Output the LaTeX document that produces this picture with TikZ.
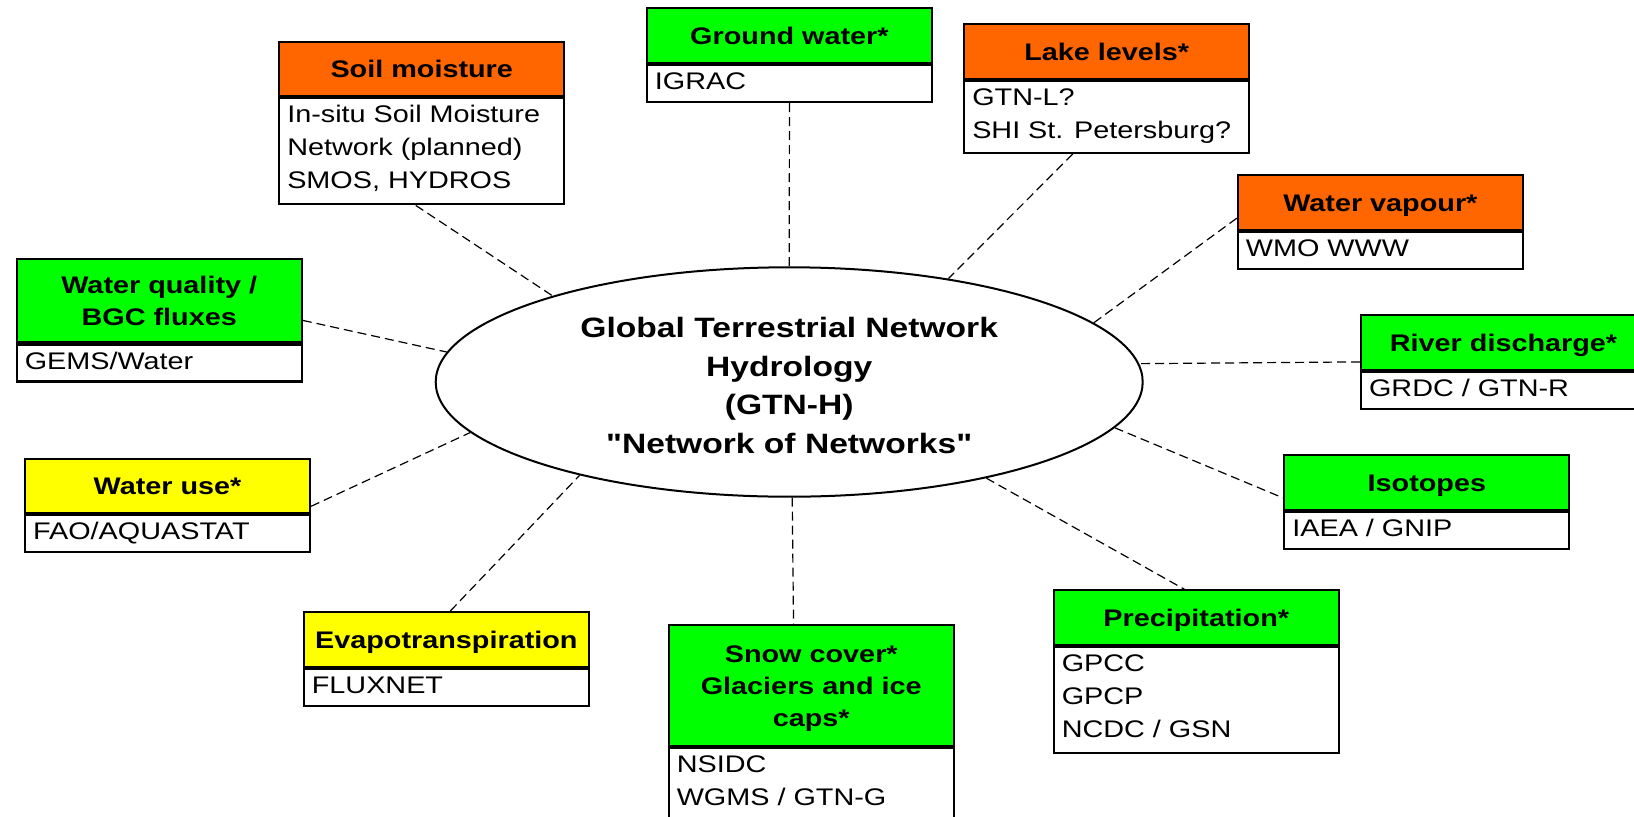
\documentclass[tikz,border=0pt]{standalone}
\usepackage{fontspec}
\newfontfamily\lib{Liberation Sans}[FakeStretch=1.2]
\usetikzlibrary{calc,shapes.geometric}
\definecolor{hOrange}{RGB}{255,102,0}
\definecolor{hGreen}{RGB}{0,255,0}
\definecolor{hYellow}{RGB}{255,255,0}
\newcommand\hs{\rule[-7.45pt]{0pt}{32.3pt}}
\newcommand\bs{\rule[-8.4pt]{0pt}{33pt}}
\newcommand\es{\rule[-6pt]{0pt}{38.7pt}}
\newcommand\bodytext[2]{\begin{minipage}[t][#1][t]{269pt}\lib\fontsize{24pt}{33pt}\selectfont\raggedright #2\end{minipage}}
\tikzset{
  hdr/.style={draw, line width=2.1pt, minimum width=285pt, text width=285pt, inner sep=0pt,
    align=center, anchor=north west, font=\lib\fontsize{24pt}{32.3pt}\selectfont\bfseries},
  bodyb/.style={draw, fill=white, line width=2.1pt, minimum width=285pt, inner xsep=8pt,
    inner ysep=0pt, anchor=north west},
  conn/.style={line width=1.2pt, dash pattern=on 9pt off 5pt},
  hub/.style={ellipse, draw, line width=2pt, minimum width=707pt, minimum height=229.4pt,
    inner sep=0pt, align=center, font=\lib\fontsize{28pt}{38.7pt}\selectfont\bfseries}
}
\begin{document}
\begin{tikzpicture}[x=1pt,y=-1pt]
\useasboundingbox (0,0) rectangle (1634,817);
\clip (0,0) rectangle (1634,817);
\fill[white] (0,0) rectangle (1634,817);

% hub
\node[hub] (gtnh) at (789.2,382) {\es Global Terrestrial Network\\\es Hydrology\\\es (GTN-H)\\\es "Network of Networks"};

% Soil moisture
\node[hdr, fill=hOrange, minimum height=54.5pt] (soilH) at (278.2,40.7) {\hs Soil moisture};
\node[bodyb] (soilB) at (soilH.south west) {\bodytext{106pt}{\bs In-situ Soil Moisture\\\bs Network (planned)\\\bs SMOS, HYDROS}};

% Ground water
\node[hdr, fill=hGreen, minimum height=54.5pt] (gwH) at (645.9,7.3) {\hs Ground water*};
\node[bodyb] (gwB) at (gwH.south west) {\bodytext{37pt}{\bs IGRAC}};

% Lake levels
\node[hdr, fill=hOrange, minimum height=54.5pt] (lakeH) at (963.2,23.3) {\hs Lake levels*};
\node[bodyb] (lakeB) at (lakeH.south west) {\bodytext{72pt}{\bs GTN-L?\\\bs SHI St. Petersburg?}};

% Water vapour
\node[hdr, fill=hOrange, minimum height=54.5pt] (vapH) at (1236.8,174.3) {\hs Water vapour*};
\node[bodyb] (vapB) at (vapH.south west) {\bodytext{37pt}{\bs WMO WWW}};

% River discharge
\node[hdr, fill=hGreen, minimum height=54.5pt] (rivH) at (1360,314.3) {\hs River discharge*};
\node[bodyb] (rivB) at (rivH.south west) {\bodytext{37pt}{\bs GRDC / GTN-R}};

% Water quality
\node[hdr, fill=hGreen, minimum height=83.3pt] (wqH) at (15.7,258) {\hs Water quality /\\\hs BGC fluxes};
\node[bodyb] (wqB) at (wqH.south west) {\bodytext{37pt}{\bs GEMS/Water}};

% Water use
\node[hdr, fill=hYellow, minimum height=54.5pt] (wuH) at (24,457.7) {\hs Water use*};
\node[bodyb] (wuB) at (wuH.south west) {\bodytext{37pt}{\bs FAO/AQUASTAT}};

% Evapotranspiration
\node[hdr, fill=hYellow, minimum height=54.5pt] (evH) at (302.8,611) {\hs Evapotranspiration};
\node[bodyb] (evB) at (evH.south west) {\bodytext{37pt}{\bs FLUXNET}};

% Snow cover
\node[hdr, fill=hGreen, minimum height=120.5pt] (snowH) at (667.7,624.3) {\hs Snow cover*\\\hs Glaciers and ice\\\hs caps*};
\node[bodyb] (snowB) at (snowH.south west) {\bodytext{80pt}{\bs NSIDC\\\bs WGMS / GTN-G}};

% Precipitation
\node[hdr, fill=hGreen, minimum height=54.5pt] (prH) at (1052.7,589.3) {\hs Precipitation*};
\node[bodyb] (prB) at (prH.south west) {\bodytext{106pt}{\bs GPCC\\\bs GPCP\\\bs NCDC / GSN}};

% Isotopes
\node[hdr, fill=hGreen, minimum height=54.5pt] (isoH) at (1283.3,454) {\hs Isotopes};
\node[bodyb] (isoB) at (isoH.south west) {\bodytext{37pt}{\bs IAEA / GNIP}};

% connectors
\draw[conn] ($(soilB.south)+(-6,0)$) -- (gtnh.160.3);
\draw[conn] (gwB.south) -- (gtnh.north);
\draw[conn] ($(lakeB.south)+(-34,0)$) -- (gtnh.33.6);
\draw[conn] ($(vapH.south west)+(0,-12.7)$) -- (gtnh.11);
\draw[conn] ($(rivH.south west)+(0,-9)$) -- (gtnh.3);
\draw[conn] ($(wqH.south east)+(0,-23)$) -- (gtnh.175.7);
\draw[conn] ($(wuH.south east)+(0,-8)$) -- (gtnh.189);
\draw[conn] ($(evH.north)+(4,0)$) -- (gtnh.204.4);
\draw[conn] ($(gtnh.south)+(3,0)$) -- ($(snowH.north)+(-17.7,0)$);
\draw[conn] (gtnh.334.8) -- ($(prH.north)+(-11.8,0)$);
\draw[conn] (gtnh.352.1) -- ($(isoH.south west)+(0,-12.6)$);
\end{tikzpicture}
\end{document}
